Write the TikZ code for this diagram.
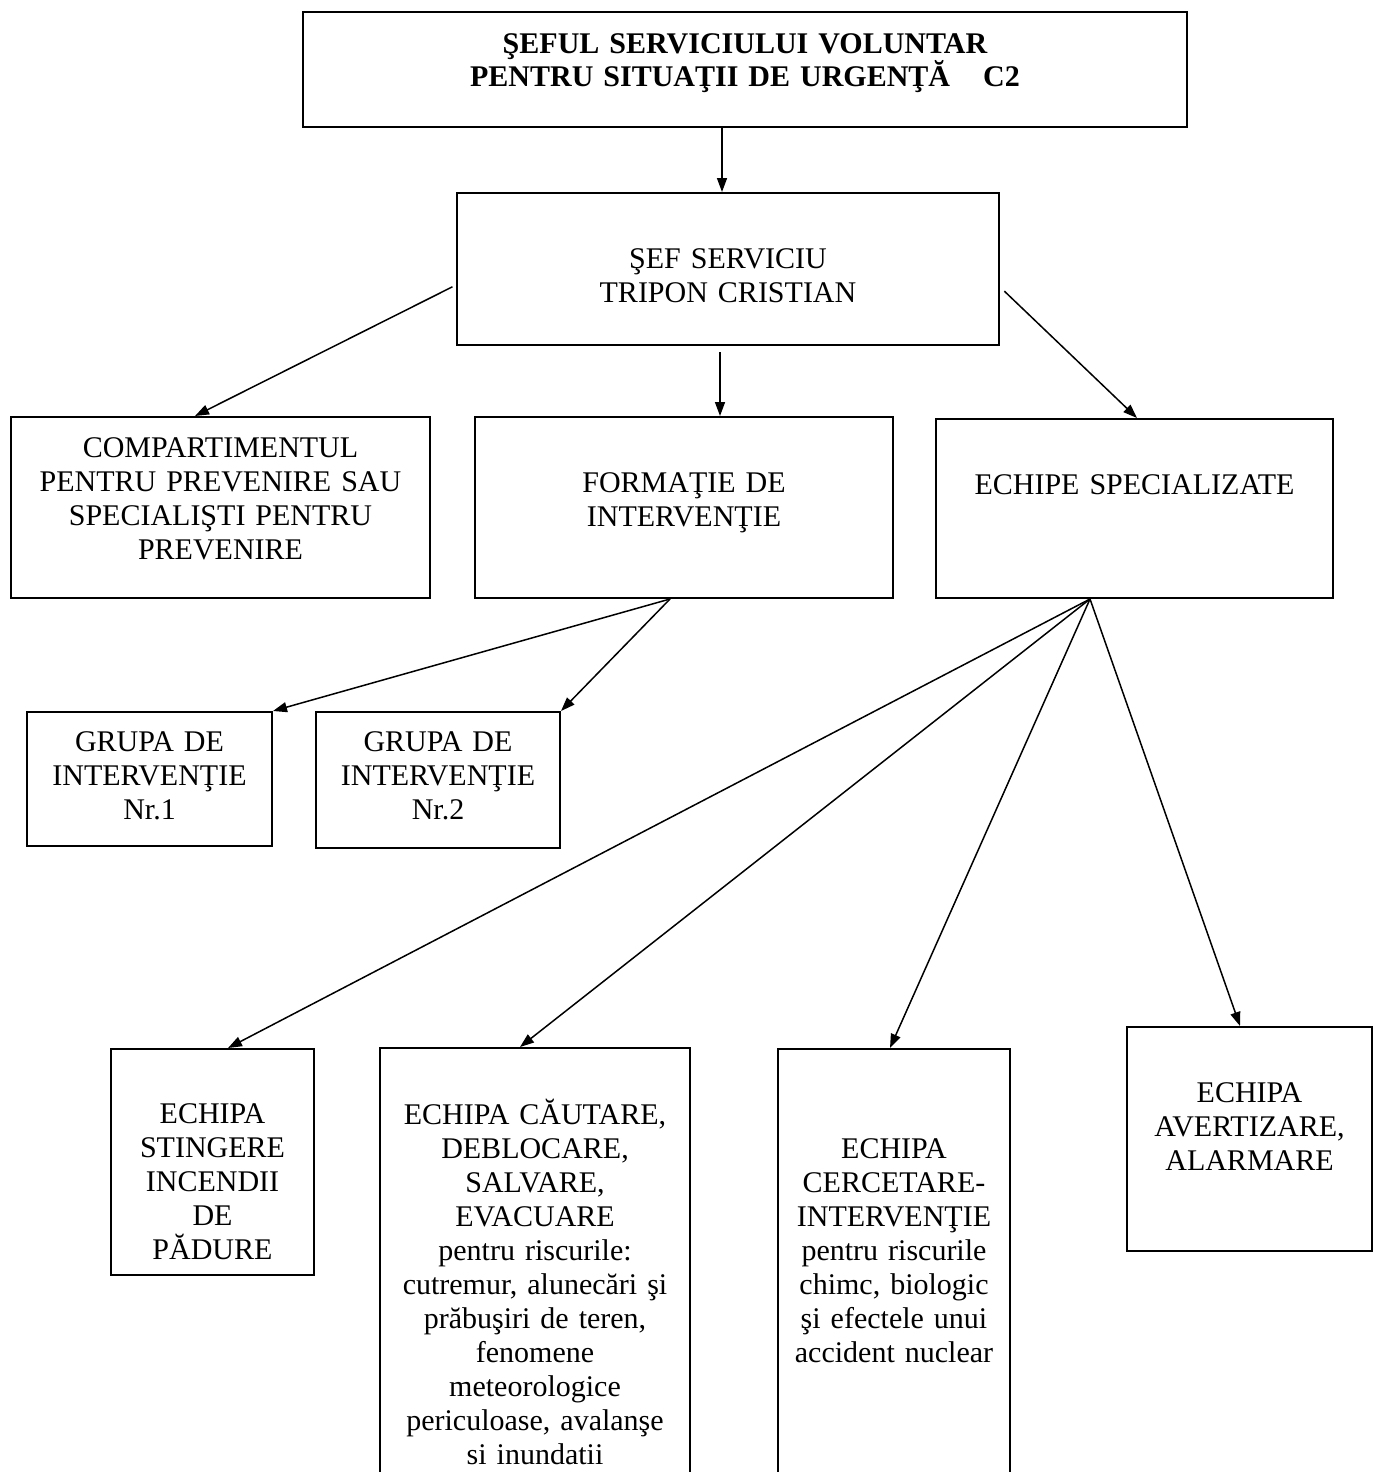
\documentclass[tikz,border=0pt]{standalone}
\usepackage{fontspec}
\setmainfont{Liberation Serif}
\usetikzlibrary{arrows.meta}

\begin{document}
\begin{tikzpicture}
  [x=0.5pt,y=-0.5pt,>={Triangle[length=7pt,width=5pt]},
   every node/.style={draw,line width=1pt,align=center,inner sep=0pt,anchor=base,
     font=\fontsize{15pt}{17pt}\selectfont},
   link/.style={->,line width=0.75pt}]
  \useasboundingbox (0,0) rectangle (1373,1472);
  \node[text width=442pt,text height=20.5pt,text depth=37pt,
    font=\fontsize{15pt}{17pt}\selectfont\bfseries] (top) at (745,53)
    {ŞEFUL SERVICIULUI VOLUNTAR\\PENTRU SITUAŢII DE URGENŢĂ\hspace{1.1em}C2};
  \node[text width=271pt,text height=37.5pt,text depth=38.5pt] (head) at (728,268)
    {ŞEF SERVICIU\\TRIPON CRISTIAN};
  \node[text width=209.5pt,text height=20pt,text depth=70.5pt] (prev) at (220.5,457)
    {COMPARTIMENTUL\\PENTRU PREVENIRE SAU\\SPECIALIŞTI PENTRU\\PREVENIRE};
  \node[text width=209pt,text height=37.5pt,text depth=53pt] (form) at (684,492)
    {FORMAŢIE DE\\INTERVENŢIE};
  \node[text width=198.5pt,text height=37.5pt,text depth=52pt] (spec) at (1134.5,494)
    {ECHIPE SPECIALIZATE};
  \node[text width=122.5pt,text height=19.5pt,text depth=47.5pt] (gi1) at (149.5,751)
    {GRUPA DE\\INTERVENŢIE\\Nr.1};
  \node[text width=122pt,text height=19.5pt,text depth=48.5pt] (gi2) at (438,751)
    {GRUPA DE\\INTERVENŢIE\\Nr.2};
  \node[text width=101.5pt,text height=37pt,text depth=76pt] (stin) at (212.5,1123)
    {ECHIPA\\STINGERE\\INCENDII\\DE\\PĂDURE};
  \node[text width=155pt,text height=38pt,text depth=187.5pt] (caut) at (535,1124)
    {ECHIPA CĂUTARE,\\DEBLOCARE,\\SALVARE,\\EVACUARE\\pentru riscurile:\\
     cutremur, alunecări şi\\prăbuşiri de teren,\\fenomene\\meteorologice\\
     periculoase, avalanşe\\si inundatii};
  \node[text width=116pt,text height=54.5pt,text depth=171pt] (cerc) at (894,1158)
    {ECHIPA\\CERCETARE-\\INTERVENŢIE\\pentru riscurile\\chimc, biologic\\
     şi efectele unui\\accident nuclear};
  \node[text width=122.5pt,text height=37.5pt,text depth=74.5pt] (avert) at (1249.5,1102)
    {ECHIPA\\AVERTIZARE,\\ALARMARE};
  \draw[link] ([xshift=-11.5pt]top.south) -- ([xshift=-11.5pt]top.south |- head.north);
  \draw[link,shorten <=2pt] ([yshift=-8pt]head.west) -- ([xshift=-12.75pt]prev.north);
  \draw[link,shorten <=3pt] ([xshift=-4pt]head.south) -- ([xshift=-4pt]head.south |- form.north);
  \draw[link,shorten <=3pt] ([yshift=-9pt]head.east) -- ([xshift=1.25pt]spec.north);
  \foreach \to in {gi1,gi2}
    \draw[link] ([xshift=-7pt]form.south) -- (\to.north east);
  \foreach \to/\dx in {stin/7.75pt,caut/-7.5pt,cerc/-2pt,avert/-4.75pt}
    \draw[link] ([xshift=-22.25pt]spec.south) -- ([xshift=\dx]\to.north);
\end{tikzpicture}
\end{document}
